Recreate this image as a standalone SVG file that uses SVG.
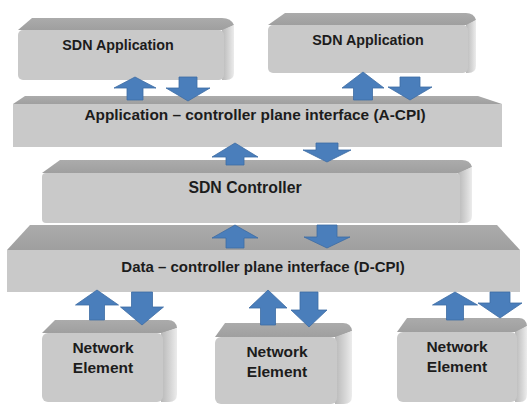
<svg xmlns="http://www.w3.org/2000/svg" width="527" height="405" viewBox="0 0 527 405">
<defs>
<linearGradient id="side" x1="0" y1="0" x2="1" y2="0">
<stop offset="0" stop-color="#b8b8b8"/>
<stop offset="0.6" stop-color="#d6d6d6"/>
<stop offset="1" stop-color="#ececec"/>
</linearGradient>
<linearGradient id="topg" x1="0" y1="0" x2="0" y2="1">
<stop offset="0" stop-color="#ababab"/>
<stop offset="1" stop-color="#9f9f9f"/>
</linearGradient>
</defs>
<style>
.front{fill:#c9c9c9}
.top{fill:url(#topg)}
.side{fill:url(#side)}
.lbl{font-family:"Liberation Sans",Arial,sans-serif;font-weight:bold;fill:#1c1c1c;text-anchor:middle}
.arr{fill:#4a7ebb;stroke:#3d6ca3;stroke-width:0.8}
</style>
<rect width="527" height="405" fill="#ffffff"/>

<g id="app1">
<path class="top" d="M32,18 H222 Q231,18 234,25 L224,30 H18 Z"/>
<path class="side" d="M222,30 L234,25 V73 Q234,80 226,80 H222 Z"/>
<rect class="front" x="18" y="30" width="206" height="50" rx="5"/>
<text class="lbl" x="118" y="50" font-size="14.3">SDN Application</text>
</g>

<g id="app2">
<path class="top" d="M285,13 H466 Q474,13 476,20 L468,25 H268 Z"/>
<path class="side" d="M466,25 L476,20 V66 Q476,73 468,73 H466 Z"/>
<rect class="front" x="268" y="25" width="200" height="48" rx="5"/>
<text class="lbl" x="368" y="45" font-size="14.3">SDN Application</text>
</g>

<g id="acpi">
<path class="top" d="M25,96 H478 L502,104 H13 Z"/>
<rect class="front" x="13" y="104" width="489" height="43"/>
<text class="lbl" x="255" y="120" font-size="15.4">Application – controller plane interface (A-CPI)</text>
</g>

<g id="controller">
<path class="top" d="M60,160 H462 Q470,160 472,167 L460,173 H42 Z"/>
<path class="side" d="M458,173 L472,167 V216 Q472,223 464,223 H458 Z"/>
<rect class="front" x="42" y="173" width="418" height="50" rx="4"/>
<text class="lbl" x="245" y="193" font-size="15.8">SDN Controller</text>
</g>

<g id="dcpi">
<path class="top" d="M30,225 H497 L520,250 H7 Z"/>
<rect class="front" x="7" y="250" width="513" height="42"/>
<text class="lbl" x="263" y="272" font-size="15">Data – controller plane interface (D-CPI)</text>
</g>

<g id="ne1">
<path class="top" d="M55,320 H168 Q176,320 177,328 L163,333 H42 Z"/>
<path class="side" d="M161,333 L177,328 V394 Q177,402 169,402 H161 Z"/>
<rect class="front" x="42" y="333" width="121" height="69" rx="6"/>
<text class="lbl" x="103" y="353" font-size="15.5">Network</text>
<text class="lbl" x="103" y="373" font-size="15.5">Element</text>
</g>

<g id="ne2">
<path class="top" d="M225,323 H343 Q351,323 352,331 L337,337 H215 Z"/>
<path class="side" d="M335,337 L352,331 V396 Q352,404 344,404 H335 Z"/>
<rect class="front" x="215" y="337" width="122" height="67" rx="6"/>
<text class="lbl" x="277" y="357" font-size="15.5">Network</text>
<text class="lbl" x="277" y="377" font-size="15.5">Element</text>
</g>

<g id="ne3">
<path class="top" d="M407,318 H519 Q526,318 527,326 L517,332 H397 Z"/>
<path class="side" d="M515,332 L527,326 V394 Q527,402 520,402 H515 Z"/>
<rect class="front" x="397" y="332" width="120" height="70" rx="6"/>
<text class="lbl" x="457" y="352" font-size="15.5">Network</text>
<text class="lbl" x="457" y="372" font-size="15.5">Element</text>
</g>

<g id="connectors">
<polygon class="arr" points="135,77 156,88 143,88 143,100 127,100 127,88 114,88"/>
<polygon class="arr" points="179,77 197,77 197,88 210,88 188,101 166,88 179,88"/>
<polygon class="arr" points="363,72 384,88 372.5,88 372.5,100 353.5,100 353.5,88 342,88"/>
<polygon class="arr" points="400,77 420,77 420,87 432,87 410,100 388,87 400,87"/>
<polygon class="arr" points="235,143 258,157 244,157 244,165 226,165 226,157 212,157"/>
<polygon class="arr" points="316,143 338,143 338,150 351,150 327,162 303,150 316,150"/>
<polygon class="arr" points="235,225 258,238 244,238 244,248 226,248 226,238 212,238"/>
<polygon class="arr" points="317,225 337,225 337,237 350,237 327,248 304,237 317,237"/>
<polygon class="arr" points="97,290 118.5,305 104.5,305 104.5,320 89.5,320 89.5,305 75.5,305"/>
<polygon class="arr" points="131.5,292 152.5,292 152.5,307 163.5,307 142,325 120.5,307 131.5,307"/>
<polygon class="arr" points="268,290 287,308 275.5,308 275.5,325 260.5,325 260.5,308 249,308"/>
<polygon class="arr" points="300,292 318,292 318,310 327,310 309,327 291,310 300,310"/>
<polygon class="arr" points="455,292 477.5,305 463.5,305 463.5,320 446.5,320 446.5,305 432.5,305"/>
<polygon class="arr" points="490,292 510,292 510,303 522,303 500,318 478,303 490,303"/>
</g>
</svg>
